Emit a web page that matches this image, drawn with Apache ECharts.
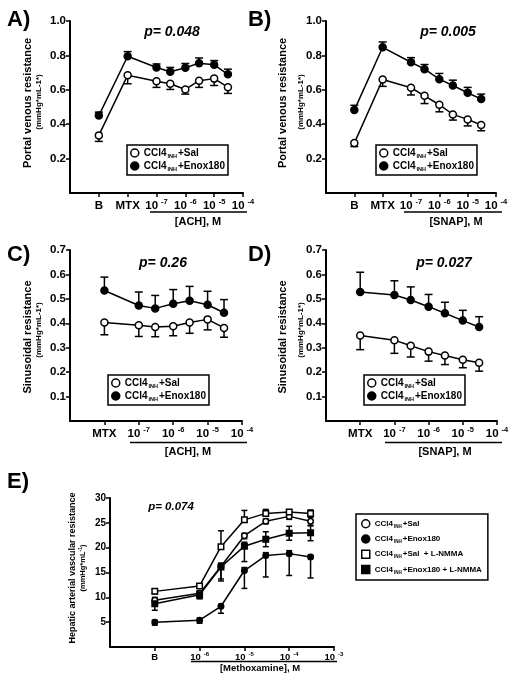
<!DOCTYPE html>
<html><head><meta charset="utf-8">
<script src="https://cdn.jsdelivr.net/npm/echarts@6/dist/echarts.min.js"></script>
<style>html,body{margin:0;padding:0;background:#fff}#c{width:528px;height:686px}</style>
</head><body><div id="c"></div>
<script>
// ---------- DATA ----------
const abDoses = ['B', 'MTX', 1e-7, 3e-7, 1e-6, 3e-6, 1e-5, 3e-5];
const cdDoses = ['MTX', 1e-7, 3e-7, 1e-6, 3e-6, 1e-5, 3e-5];
const eDoses  = ['B', 1e-6, 3e-6, 1e-5, 3e-5, 1e-4, 3e-4];

const abTickLabels = ['B', 'MTX', '10^-7', '10^-6', '10^-5', '10^-4'];
const cdTickLabels = ['MTX', '10^-7', '10^-6', '10^-5', '10^-4'];
const eTickLabels  = ['B', '10^-6', '10^-5', '10^-4', '10^-3'];

const abYTicks = [0.2, 0.4, 0.6, 0.8, 1.0];
const cdYTicks = [0.1, 0.2, 0.3, 0.4, 0.5, 0.6, 0.7];
const eYTicks  = [5, 10, 15, 20, 25, 30];

// Panel A: portal venous resistance, ACH
const A_sal     = [0.335, 0.685, 0.650, 0.635, 0.602, 0.653, 0.665, 0.615];
const A_salErr  = [0.035, 0.050, 0.036, 0.033, 0.027, 0.039, 0.040, 0.036];
const A_enox    = [0.450, 0.795, 0.730, 0.705, 0.728, 0.755, 0.745, 0.690];
const A_enoxErr = [0.020, 0.027, 0.020, 0.025, 0.025, 0.030, 0.025, 0.030];
// Panel B: portal venous resistance, SNAP
const B_sal     = [0.290, 0.660, 0.612, 0.565, 0.513, 0.457, 0.428, 0.395];
const B_salErr  = [0.020, 0.040, 0.042, 0.045, 0.041, 0.033, 0.038, 0.033];
const B_enox    = [0.482, 0.847, 0.760, 0.720, 0.662, 0.625, 0.583, 0.546];
const B_enoxErr = [0.028, 0.031, 0.027, 0.027, 0.033, 0.031, 0.031, 0.029];
// Panel C: sinusoidal resistance, ACH
const C_sal     = [0.403, 0.392, 0.385, 0.388, 0.403, 0.416, 0.381];
const C_salErr  = [0.050, 0.046, 0.040, 0.039, 0.044, 0.043, 0.038];
const C_enox    = [0.534, 0.473, 0.461, 0.480, 0.492, 0.476, 0.443];
const C_enoxErr = [0.055, 0.055, 0.053, 0.058, 0.059, 0.055, 0.054];
// Panel D: sinusoidal resistance, SNAP
const D_sal     = [0.350, 0.331, 0.308, 0.284, 0.268, 0.251, 0.238];
const D_salErr  = [0.058, 0.054, 0.046, 0.039, 0.037, 0.033, 0.034];
const D_enox    = [0.528, 0.516, 0.495, 0.468, 0.441, 0.411, 0.385];
const D_enoxErr = [0.081, 0.058, 0.054, 0.050, 0.045, 0.042, 0.042];
// Panel E: hepatic arterial vascular resistance, methoxamine
const E_sal       = [9.4, 10.8, 16.2, 22.4, 25.3, 26.3, 25.3];
const E_salUp     = [0.6, 0.5, 0.6, 0.5, 0.5, 0.6, 0.8];
const E_salDn     = [0.6, 1.0, 2.5, 0.6, 0.5, 0.6, 0.8];
const E_enox      = [5.0, 5.4, 8.2, 15.4, 18.4, 18.8, 18.1];
const E_enoxUp    = [0.4, 0.4, 0.4, 0.6, 0.6, 0.6, 0.4];
const E_enoxDn    = [0.6, 0.6, 1.4, 3.6, 4.3, 4.4, 4.2];
const E_salL      = [11.2, 12.3, 20.2, 25.6, 26.9, 27.2, 26.9];
const E_salLUp    = [0.5, 0.4, 3.2, 1.9, 0.8, 0.4, 0.7];
const E_salLDn    = [0.5, 0.4, 0.5, 0.5, 0.5, 0.4, 0.5];
const E_enoxL     = [8.7, 10.5, 16.1, 20.3, 21.7, 22.9, 23.0];
const E_enoxLUp   = [0.8, 0.5, 0.8, 0.8, 1.5, 1.4, 1.4];
const E_enoxLDn   = [1.3, 0.8, 2.8, 3.1, 1.5, 1.4, 1.6];

const zeros = n => new Array(n).fill(0);

// ---------- HELPERS ----------
const FONT = '"Liberation Sans", Arial, Helvetica, sans-serif';
function labelPositions(labels) {
  const k = labels.findIndex(l => l.startsWith('10^'));
  const e = parseInt(labels[k].slice(3));
  return labels.map((l, i) => l.startsWith('10^') ? parseInt(l.slice(3)) : e - (k - i));
}
function doseX(d, labels, pos) {
  return typeof d === 'string' ? pos[labels.indexOf(d)] : Math.log10(d);
}

const panels = [
  { grid: {left: 70, top: 21, width: 173, height: 172}, labels: abTickLabels, doses: abDoses,
    yMax: 1, yInt: 0.2, yTicks: abYTicks, dec: 1, small: false,
    series: [
      {name: 'A_sal', txt: '+Sal', y: A_sal, up: zeros(8), dn: A_salErr, open: true, sym: 'circle'},
      {name: 'A_enox', txt: '+Enox180', y: A_enox, up: A_enoxErr, dn: zeros(8), open: false, sym: 'circle'}],
    legend: {left: 127, top: 145} },
  { grid: {left: 326, top: 21, width: 170, height: 172}, labels: abTickLabels, doses: abDoses,
    yMax: 1, yInt: 0.2, yTicks: abYTicks, dec: 1, small: false,
    series: [
      {name: 'B_sal', txt: '+Sal', y: B_sal, up: zeros(8), dn: B_salErr, open: true, sym: 'circle'},
      {name: 'B_enox', txt: '+Enox180', y: B_enox, up: B_enoxErr, dn: zeros(8), open: false, sym: 'circle'}],
    legend: {left: 376, top: 145} },
  { grid: {left: 70, top: 250, width: 172, height: 171}, labels: cdTickLabels, doses: cdDoses,
    yMax: 0.7, yInt: 0.1, yTicks: cdYTicks, dec: 1, small: false,
    series: [
      {name: 'C_sal', txt: '+Sal', y: C_sal, up: zeros(7), dn: C_salErr, open: true, sym: 'circle'},
      {name: 'C_enox', txt: '+Enox180', y: C_enox, up: C_enoxErr, dn: zeros(7), open: false, sym: 'circle'}],
    legend: {left: 108, top: 375} },
  { grid: {left: 326, top: 250, width: 171, height: 171}, labels: cdTickLabels, doses: cdDoses,
    yMax: 0.7, yInt: 0.1, yTicks: cdYTicks, dec: 1, small: false,
    series: [
      {name: 'D_sal', txt: '+Sal', y: D_sal, up: zeros(7), dn: D_salErr, open: true, sym: 'circle'},
      {name: 'D_enox', txt: '+Enox180', y: D_enox, up: D_enoxErr, dn: zeros(7), open: false, sym: 'circle'}],
    legend: {left: 364, top: 375} },
  { grid: {left: 110, top: 498, width: 224, height: 149}, labels: eTickLabels, doses: eDoses,
    yMax: 30, yInt: 5, yTicks: eYTicks, dec: 0, small: true,
    series: [
      {name: 'E_sal', txt: '+Sal', y: E_sal, up: E_salUp, dn: E_salDn, open: true, sym: 'circle'},
      {name: 'E_enox', txt: '+Enox180', y: E_enox, up: E_enoxUp, dn: E_enoxDn, open: false, sym: 'circle'},
      {name: 'E_salL', txt: '+Sal  + L-NMMA', y: E_salL, up: E_salLUp, dn: E_salLDn, open: true, sym: 'rect'},
      {name: 'E_enoxL', txt: '+Enox180 + L-NMMA', y: E_enoxL, up: E_enoxLUp, dn: E_enoxLDn, open: false, sym: 'rect'}],
    legend: {left: 356, top: 514} }
];

const option = {
  animation: false, backgroundColor: '#fff',
  grid: [], xAxis: [], yAxis: [], series: [], legend: [], graphic: []
};

panels.forEach((p, gi) => {
  const pos = labelPositions(p.labels);
  const sm = p.small;
  option.grid.push(Object.assign({containLabel: false}, p.grid));
  option.xAxis.push({
    gridIndex: gi, type: 'value', min: pos[0] - 1, max: pos[pos.length - 1], interval: 1,
    axisLine: {onZero: false, lineStyle: {color: '#000', width: 2}},
    axisTick: {show: true, length: 4, lineStyle: {color: '#000', width: 1.5}, customValues: pos},
    splitLine: {show: false},
    axisLabel: {
      customValues: pos, margin: sm ? 4 : 5, color: '#000',
      formatter: v => {
        const i = pos.findIndex(q => Math.abs(q - v) < 1e-6);
        if (i < 0) return '';
        const l = p.labels[i];
        return l.startsWith('10^') ? '{n|10}{s|' + l.slice(3) + '}' : '{n|' + l + '}';
      },
      rich: {
        n: {fontFamily: FONT, fontWeight: 'bold', fontSize: sm ? 9.5 : 11.5, color: '#000', lineHeight: sm ? 11 : 14, verticalAlign: 'bottom'},
        s: {fontFamily: FONT, fontWeight: 'bold', fontSize: sm ? 6 : 7.5, color: '#000', lineHeight: sm ? 7 : 8, verticalAlign: 'top', padding: [0, 0, 0, 3]}
      }
    }
  });
  option.yAxis.push({
    gridIndex: gi, type: 'value', min: 0, max: p.yMax, interval: p.yInt,
    axisLine: {show: true, onZero: false, lineStyle: {color: '#000', width: 2}},
    axisTick: {show: true, length: 4, lineStyle: {color: '#000', width: 1.5}, customValues: p.yTicks},
    splitLine: {show: false},
    axisLabel: {customValues: p.yTicks, margin: 4, color: '#000', fontFamily: FONT, fontWeight: 'bold',
      fontSize: sm ? 10 : 11.5, formatter: v => v === 0 ? '' : Number(v).toFixed(p.dec)}
  });
  const xs = p.doses.map(d => doseX(d, p.labels, pos));
  const capW = sm ? 3 : 4;
  p.series.forEach(s => {
    option.series.push({
      type: 'custom', xAxisIndex: gi, yAxisIndex: gi, silent: true, z: 2,
      data: xs.map((x, i) => [x, s.y[i] - s.dn[i], s.y[i] + s.up[i], s.dn[i] > 0 ? 1 : 0, s.up[i] > 0 ? 1 : 0]),
      renderItem: (params, api) => {
        const x = api.value(0);
        const a = api.coord([x, api.value(1)]);
        const b = api.coord([x, api.value(2)]);
        const st = {stroke: '#000', lineWidth: 1.5};
        const ch = [{type: 'line', shape: {x1: a[0], y1: a[1], x2: b[0], y2: b[1]}, style: st}];
        if (api.value(3)) ch.push({type: 'line', shape: {x1: a[0] - capW, y1: a[1], x2: a[0] + capW, y2: a[1]}, style: st});
        if (api.value(4)) ch.push({type: 'line', shape: {x1: b[0] - capW, y1: b[1], x2: b[0] + capW, y2: b[1]}, style: st});
        return {type: 'group', children: ch};
      }
    });
    option.series.push({
      name: s.name, type: 'line', xAxisIndex: gi, yAxisIndex: gi, z: 3,
      data: xs.map((x, i) => [x, s.y[i]]),
      symbol: s.sym, symbolSize: sm ? 5.5 : 7, showSymbol: true,
      lineStyle: {color: '#000', width: 1.5},
      itemStyle: {color: s.open ? '#fff' : '#000', borderColor: '#000', borderWidth: 1.5}
    });
  });
  const txt = {};
  p.series.forEach(s => txt[s.name] = s.txt);
  option.legend.push({
    left: p.legend.left, top: p.legend.top, orient: 'vertical', selectedMode: false,
    borderColor: '#000', borderWidth: 1.5, borderRadius: 0,
    padding: sm ? [5, 6, 5, 5] : [3, 3, 3, 3],
    itemGap: sm ? 5 : 2, itemWidth: sm ? 8 : 8, itemHeight: sm ? 8 : 8, itemTextGap: sm ? 6 : 6,
    data: p.series.map(s => ({name: s.name, icon: s.sym,
      itemStyle: {color: s.open ? '#fff' : '#000', borderColor: '#000', borderWidth: 1.5}})),
    formatter: n => '{a|CCl4}{s|INH}{a|' + txt[n] + '}',
    textStyle: {
      color: '#000',
      rich: {
        a: {fontFamily: FONT, fontWeight: 'bold', fontSize: sm ? 8 : 10, color: '#000', lineHeight: sm ? 11 : 12, verticalAlign: 'middle'},
        s: {fontFamily: FONT, fontWeight: 'bold', fontSize: sm ? 4.5 : 5.5, color: '#000', lineHeight: sm ? 5 : 6, verticalAlign: 'bottom', padding: [0, 1, 0, 1]}
      }
    }
  });
});

// ---------- TEXT / ANNOTATIONS ----------
const G = option.graphic;
function text(x, y, s, font, opts) {
  G.push(Object.assign({type: 'text', x: x, y: y, silent: true,
    style: {text: s, font: font, fill: '#000', align: 'center', verticalAlign: 'middle'}}, opts || {}));
}
function rtext(x, y, s, font) { text(x, y, s, font, {rotation: Math.PI / 2}); }
function hline(x1, x2, y) {
  G.push({type: 'line', silent: true, shape: {x1: x1, y1: y, x2: x2, y2: y}, style: {stroke: '#000', lineWidth: 1.5}});
}
const LET = 'bold 22px ' + FONT;
text(7, 20, 'A)', LET, {style: {text: 'A)', font: LET, fill: '#000', align: 'left', verticalAlign: 'middle'}});
text(248, 20, 'B)', LET, {style: {text: 'B)', font: LET, fill: '#000', align: 'left', verticalAlign: 'middle'}});
text(7, 255, 'C)', LET, {style: {text: 'C)', font: LET, fill: '#000', align: 'left', verticalAlign: 'middle'}});
text(248, 255, 'D)', LET, {style: {text: 'D)', font: LET, fill: '#000', align: 'left', verticalAlign: 'middle'}});
text(7, 482, 'E)', LET, {style: {text: 'E)', font: LET, fill: '#000', align: 'left', verticalAlign: 'middle'}});

const PF = 'italic bold 14px ' + FONT;
text(172, 32, 'p= 0.048', PF);
text(448, 32, 'p= 0.005', PF);
text(163, 263, 'p= 0.26', PF);
text(444, 263, 'p= 0.027', PF);
text(171, 507, 'p= 0.074', 'italic bold 11.5px ' + FONT);

const YN = 'bold 11px ' + FONT, YS = 'bold 8px ' + FONT;
rtext(28, 103, 'Portal venous resistance', YN);
rtext(38.5, 102, '(mmHg*mL-1*)', YS);
rtext(283, 103, 'Portal venous resistance', YN);
rtext(301, 102, '(mmHg*mL-1*)', YS);
rtext(28, 337, 'Sinusoidal resistance', YN);
rtext(38.5, 330, '(mmHg*mL-1*)', YS);
rtext(283, 337, 'Sinusoidal resistance', YN);
rtext(301, 330, '(mmHg*mL-1*)', YS);
rtext(72.5, 568, 'Hepatic arterial vascular resistance', 'bold 9px ' + FONT);
G.push({type: 'text', x: 82.5, y: 568, rotation: Math.PI / 2, silent: true,
  style: {text: '{a|(mmHg*mL}{s|-1}{a|)}', align: 'center', verticalAlign: 'middle',
    rich: {a: {font: 'bold 7.5px ' + FONT, fill: '#000', lineHeight: 9, verticalAlign: 'bottom'},
           s: {font: 'bold 5px ' + FONT, fill: '#000', lineHeight: 6, verticalAlign: 'top'}}}});

hline(150, 247, 212); text(198, 222, '[ACH], M', 'bold 11px ' + FONT);
hline(404, 502, 212); text(456, 222, '[SNAP], M', 'bold 11px ' + FONT);
hline(130, 247, 442.5); text(188, 452, '[ACH], M', 'bold 11px ' + FONT);
hline(385, 502, 442.5); text(445, 452, '[SNAP], M', 'bold 11px ' + FONT);
hline(191, 337, 661.5); text(260, 668, '[Methoxamine], M', 'bold 9.5px ' + FONT);

const chart = echarts.init(document.getElementById('c'), null, {renderer: 'canvas'});
chart.setOption(option);
</script></body></html>
